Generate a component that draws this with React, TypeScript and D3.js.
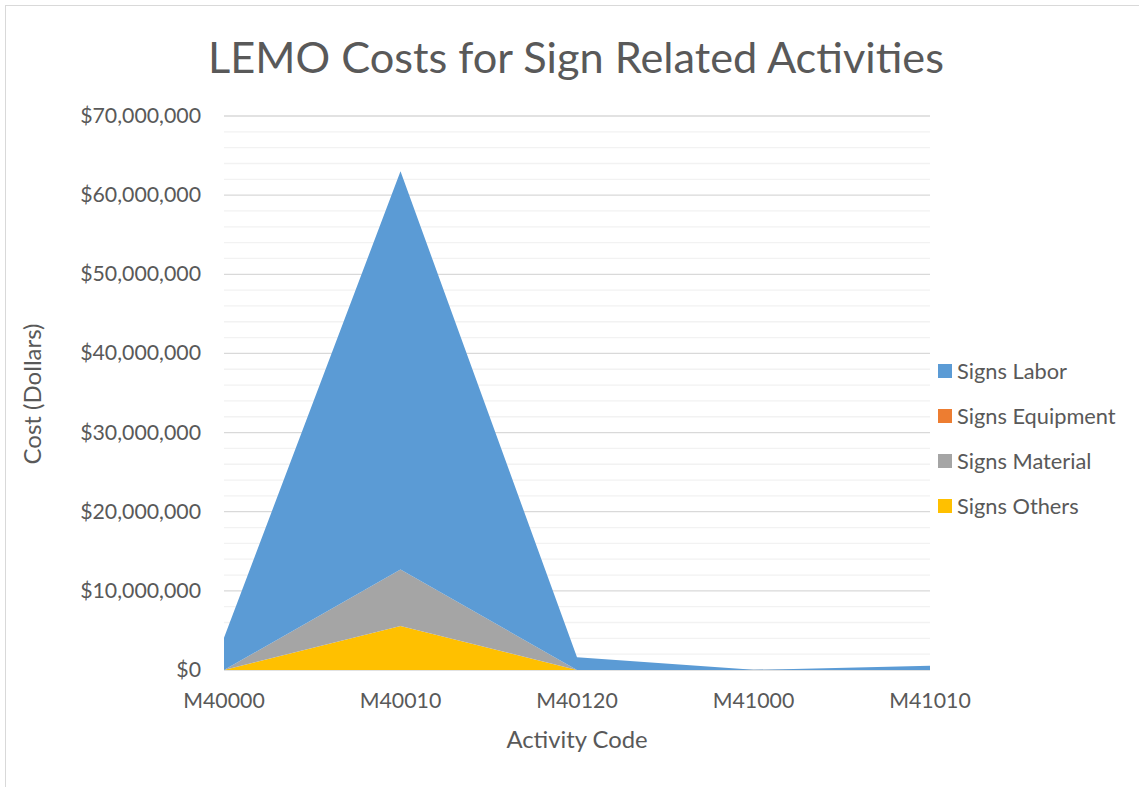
import React, { useEffect, useRef } from "react";
import * as d3 from "d3";

const categories = ["M40000", "M40010", "M40120", "M41000", "M41010"];
const seriesNames = ["Signs Labor", "Signs Equipment", "Signs Material", "Signs Others"];
const signsLabor = [4080000, 50300000, 1600000, 20000, 550000];
const signsEquipment = [0, 0, 0, 0, 0];
const signsMaterial = [0, 7150000, 0, 0, 0];
const signsOthers = [0, 5560000, 0, 0, 0];
const yTicks = [0, 10000000, 20000000, 30000000, 40000000, 50000000, 60000000, 70000000];
const colors = ["#5B9BD5", "#ED7D31", "#A5A5A5", "#FFC000"];

const W = 1139;
const H = 787;
const FONT = "Lato, 'Open Sans', sans-serif";

export default function App() {
  const ref = useRef<SVGSVGElement>(null);

  useEffect(() => {
    const svg = d3.select(ref.current);
    svg.selectAll("*").remove();

    const left = 224, right = 930, top = 116, bottom = 670;

    const x = d3.scalePoint().domain(categories).range([left, right]);
    const y = d3.scaleLinear().domain([0, 70000000]).range([bottom, top]);

    // chart border (only top and left edges are inside the picture)
    svg.append("rect")
      .attr("x", 5.5).attr("y", 5.5)
      .attr("width", W + 10).attr("height", H + 10)
      .attr("fill", "#fff").attr("stroke", "#d9d9d9");

    // minor gridlines
    const minor = d3.range(2000000, 70000001, 2000000).filter(v => v % 10000000 !== 0);
    svg.append("g").selectAll("line").data(minor).enter().append("line")
      .attr("x1", left).attr("x2", right)
      .attr("y1", d => y(d)).attr("y2", d => y(d))
      .attr("stroke", "#f2f2f2").attr("stroke-width", 1.3);

    // major gridlines
    svg.append("g").selectAll("line").data(yTicks).enter().append("line")
      .attr("x1", left).attr("x2", right)
      .attr("y1", d => y(d)).attr("y2", d => y(d))
      .attr("stroke", "#d9d9d9").attr("stroke-width", 1.3);

    // stacked areas: Others at bottom, Labor on top
    const rows = categories.map((c, i) => ({
      cat: c,
      "Signs Labor": signsLabor[i],
      "Signs Equipment": signsEquipment[i],
      "Signs Material": signsMaterial[i],
      "Signs Others": signsOthers[i],
    }));
    const order = ["Signs Others", "Signs Material", "Signs Equipment", "Signs Labor"];
    const stack = d3.stack<any>().keys(order)(rows);
    const area = d3.area<any>()
      .x((d: any) => x(d.data.cat) as number)
      .y0((d: any) => y(d[0]))
      .y1((d: any) => y(d[1]));

    svg.append("g").selectAll("path").data(stack).enter().append("path")
      .attr("d", d => area(d as any) as string)
      .attr("fill", d => colors[seriesNames.indexOf(d.key)]);

    // y tick labels
    const fmt = d3.format("$,.0f");
    svg.append("g").selectAll("text").data(yTicks).enter().append("text")
      .attr("x", left - 23).attr("y", d => y(d) + 7)
      .attr("text-anchor", "end")
      .attr("font-family", FONT).attr("font-size", 21.3).attr("fill", "#595959")
      .text(d => fmt(d));

    // x tick labels
    svg.append("g").selectAll("text").data(categories).enter().append("text")
      .attr("x", d => x(d) as number).attr("y", bottom + 38)
      .attr("text-anchor", "middle")
      .attr("font-family", FONT).attr("font-size", 21.3).attr("fill", "#595959")
      .text(d => d);

    // axis titles
    svg.append("text")
      .attr("x", 577).attr("y", 748)
      .attr("text-anchor", "middle")
      .attr("font-family", FONT).attr("font-size", 23.8).attr("fill", "#595959")
      .text("Activity Code");

    svg.append("text")
      .attr("transform", "translate(41,394) rotate(-90)")
      .attr("text-anchor", "middle")
      .attr("font-family", FONT).attr("font-size", 24).attr("fill", "#595959")
      .text("Cost (Dollars)");

    // title
    svg.append("text")
      .attr("x", 576).attr("y", 73)
      .attr("text-anchor", "middle")
      .attr("font-family", FONT).attr("font-size", 43.3).attr("fill", "#595959")
      .text("LEMO Costs for Sign Related Activities");

    // legend
    const leg = svg.append("g").selectAll("g").data(seriesNames).enter().append("g")
      .attr("transform", (d, i) => `translate(938,${371 + i * 45})`);
    leg.append("rect")
      .attr("x", 0).attr("y", -7).attr("width", 14).attr("height", 14)
      .attr("fill", (d, i) => colors[i]);
    leg.append("text")
      .attr("x", 19).attr("y", 7.5)
      .attr("font-family", FONT).attr("font-size", 21.8).attr("fill", "#595959")
      .text(d => d);
  }, []);

  return (
    <svg
      ref={ref}
      width={W}
      height={H}
      style={{ position: "absolute", left: 0, top: 0, background: "#fff" }}
    />
  );
}
